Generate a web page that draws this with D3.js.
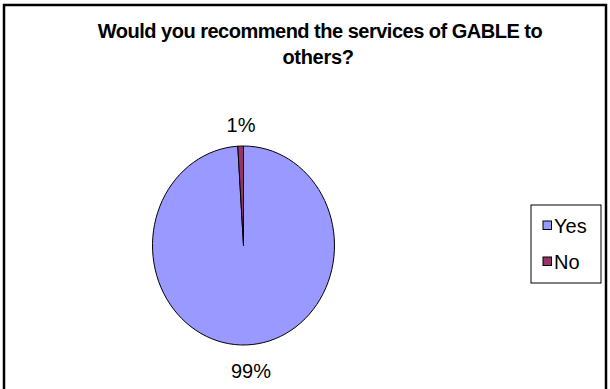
<!DOCTYPE html>
<html>
<head>
<meta charset="utf-8">
<script src="https://cdn.jsdelivr.net/npm/d3@7"></script>
<style>
html,body{margin:0;padding:0;background:#fff;}
svg{display:block;}
text{font-family:"Liberation Sans",Arial,sans-serif;}
</style>
</head>
<body>
<script>
const categories = ["Yes", "No"];
const values = [99, 1];
const labels = ["99%", "1%"];
const colors = ["#9999FF", "#993366"];
const titleLines = ["Would you recommend the services of GABLE to", "others?"];

const W = 610, H = 389;
const svg = d3.select("body").append("svg").attr("width", W).attr("height", H);

// outer frame
svg.append("rect").attr("x", 4).attr("y", 5).attr("width", 602).attr("height", 392)
  .attr("fill", "#fff").attr("stroke", "#000").attr("stroke-width", 2.5);

// title
const title = svg.append("text").attr("font-weight", "bold").attr("font-size", 20)
  .attr("text-anchor", "middle").attr("fill", "#000");
title.append("tspan").attr("x", 320).attr("y", 38).attr("letter-spacing", -0.5).text(titleLines[0]);
title.append("tspan").attr("x", 318).attr("y", 64).attr("letter-spacing", -0.3).text(titleLines[1]);

// pie
const cx = 243.5, cy = 245.5, rx = 91, ry = 99.5;
const pie = d3.pie().sort(null).value(d => d)(values);
const arc = d3.arc().innerRadius(0).outerRadius(ry);
const g = svg.append("g").attr("transform", `translate(${cx},${cy}) scale(${rx / ry},1)`);
g.selectAll("path").data(pie).enter().append("path")
  .attr("d", arc)
  .attr("fill", (d, i) => colors[i])
  .attr("stroke", "#000").attr("stroke-width", 1)
  .attr("vector-effect", "non-scaling-stroke");

// data labels
const labelPos = [{x: 251, y: 378}, {x: 241, y: 132}];
svg.selectAll("text.lbl").data(labels).enter().append("text").attr("class", "lbl")
  .attr("x", (d, i) => labelPos[i].x).attr("y", (d, i) => labelPos[i].y)
  .attr("text-anchor", "middle").attr("font-size", 20).attr("fill", "#000")
  .text(d => d);

// legend
const lg = svg.append("g");
lg.append("rect").attr("x", 531).attr("y", 205).attr("width", 70).attr("height", 78)
  .attr("fill", "#fff").attr("stroke", "#000").attr("stroke-width", 1);
const items = lg.selectAll("g.it").data(categories).enter().append("g").attr("class", "it")
  .attr("transform", (d, i) => `translate(543,${221 + i * 36})`);
items.append("rect").attr("x", 0).attr("y", 0).attr("width", 8.5).attr("height", 8.5)
  .attr("fill", (d, i) => colors[i]).attr("stroke", "#000").attr("stroke-width", 1);
items.append("text").attr("x", 11).attr("y", 11.5).attr("font-size", 20).attr("fill", "#000")
  .text(d => d);
</script>
</body>
</html>
